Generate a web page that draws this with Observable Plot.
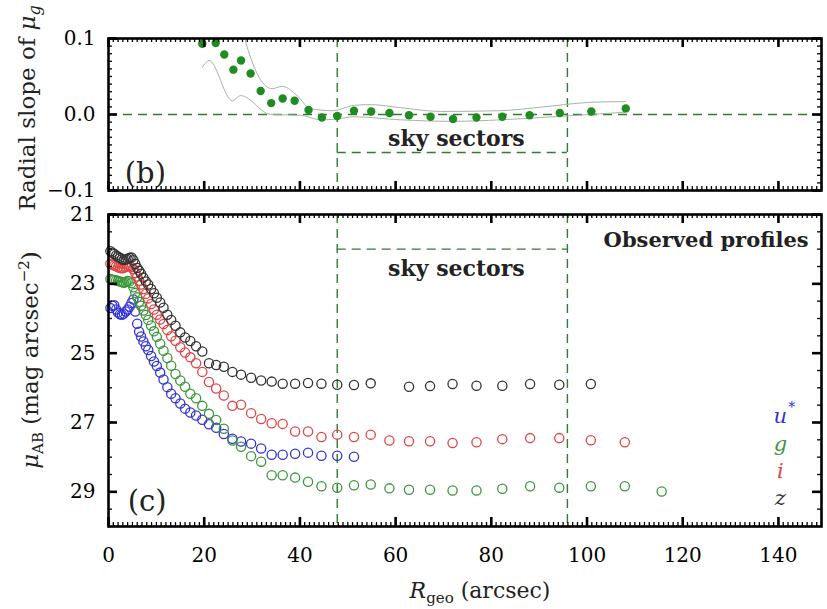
<!DOCTYPE html>
<html><head><meta charset="utf-8">
<script src="https://cdn.jsdelivr.net/npm/d3@7"></script>
<script src="https://cdn.jsdelivr.net/npm/@observablehq/plot@0.6"></script>
<style>
body{margin:0;background:#fff;}
#wrap{position:relative;width:827px;height:609px;overflow:hidden;background:#fff;}
#wrap svg{position:absolute;left:0;overflow:visible;}
</style></head><body><div id="wrap"></div>
<script>
// ---------- DATA ----------
// Panel (b): radial slope of mu_g
const slopeR   = [19.6, 22.4, 24.2, 26.1, 27.7, 29.7, 31.8, 34.0, 36.4, 38.9, 41.8, 44.6, 47.8, 51.3, 54.9, 58.7, 62.8, 67.3, 72.0, 76.9, 82.3, 88.0, 94.3, 100.9, 108.1];
const slopeVal = [0.093, 0.094, 0.079, 0.059, 0.071, 0.054, 0.031, 0.015, 0.021, 0.018, 0.006, -0.004, -0.002, 0.005, 0.004, 0.002, -0.001, -0.003, -0.006, -0.004, -0.003, -0.001, 0.002, 0.004, 0.008];
const envUpR   = [28.4, 28.6, 34.2, 36.3, 39.4, 42.2, 47.0, 51.2, 54.8, 61.0, 69.4, 81.9, 90.3, 100.7, 108.0];
const envUpVal = [0.11, 0.097, 0.034, 0.037, 0.025, 0.0075, 0.005, 0.012, 0.013, 0.009, 0.004, 0.005, 0.0096, 0.016, 0.017];
const envLoR   = [19.6, 21.0, 25.9, 27.6, 33.9, 40.1, 44.3, 47.8, 51.2, 61.0, 71.9, 81.9, 90.3, 100.7, 108.0];
const envLoVal = [0.062, 0.071, 0.018, 0.025, 0.0, -0.001, -0.007, -0.006, -0.003, -0.007, -0.009, -0.007, -0.004, 0.0, 0.003];

// Panel (c): observed surface-brightness profiles
const radius = [0.4, 0.8, 1.2, 1.6, 2.0, 2.4, 2.8, 3.2, 3.6, 4.0, 4.4, 4.8, 5.2, 5.6, 6.0, 6.4, 6.8, 7.3, 7.8, 8.3, 8.9, 9.5, 10.1, 10.8, 11.5, 12.3, 13.1, 14.0, 15.0, 16.0, 17.1, 18.3, 19.6, 21.0, 22.5, 24.1, 25.9, 27.7, 29.8, 31.9, 34.1, 36.4, 39.0, 41.7, 44.5, 47.8, 51.3, 54.8, 58.7, 62.8, 67.2, 71.9, 76.9, 82.3, 88.1, 94.2, 100.8, 107.9, 115.6];
const muU = [23.70, 23.63, 23.62, 23.74, 23.83, 23.88, 23.89, 23.86, 23.80, 23.74, 23.66, 23.55, 23.45, 23.80, 24.15, 24.38, 24.52, 24.66, 24.80, 24.91, 25.08, 25.24, 25.37, 25.56, 25.76, 25.98, 26.17, 26.30, 26.45, 26.60, 26.71, 26.80, 26.92, 27.05, 27.15, 27.33, 27.47, 27.55, 27.61, 27.75, 27.93, 27.93, 27.90, 27.87, 27.96, 27.96, 27.99, null, null, null, null, null, null, null, null, null, null, null, null];
const muG = [22.86, 22.88, 22.89, 22.90, 22.92, 22.93, 22.95, 22.97, 22.95, 22.92, 22.93, 22.98, 23.10, 23.26, 23.39, 23.52, 23.63, 23.77, 23.90, 24.04, 24.20, 24.37, 24.53, 24.73, 24.93, 25.14, 25.36, 25.60, 25.79, 25.97, 26.17, 26.30, 26.52, 26.75, 26.93, 27.18, 27.52, 27.70, 27.97, 28.13, 28.52, 28.52, 28.59, 28.71, 28.84, 28.88, 28.81, 28.79, 28.90, 28.94, 28.94, 28.96, 28.96, 28.91, 28.84, 28.88, 28.84, 28.84, 28.99];
const muI = [22.42, 22.45, 22.47, 22.49, 22.52, 22.54, 22.55, 22.54, 22.51, 22.49, 22.49, 22.52, 22.58, 22.69, 22.79, 22.91, 23.02, 23.15, 23.29, 23.42, 23.58, 23.74, 23.89, 24.03, 24.16, 24.33, 24.51, 24.64, 24.83, 24.98, 25.12, 25.29, 25.54, 25.83, 26.02, 26.22, 26.52, 26.49, 26.73, 26.90, 27.02, 27.04, 27.26, 27.26, 27.42, 27.35, 27.42, 27.35, 27.52, 27.54, 27.54, 27.59, 27.57, 27.48, 27.45, 27.45, 27.51, 27.57, null];
const muZ = [22.06, 22.10, 22.14, 22.18, 22.22, 22.25, 22.29, 22.31, 22.30, 22.28, 22.25, 22.24, 22.32, 22.43, 22.54, 22.62, 22.71, 22.82, 22.93, 23.02, 23.15, 23.27, 23.40, 23.54, 23.69, 23.89, 24.04, 24.21, 24.40, 24.55, 24.65, 24.80, 24.95, 25.29, 25.34, 25.39, 25.54, 25.62, 25.71, 25.79, 25.82, 25.88, 25.88, 25.86, 25.88, 25.91, 25.92, 25.87, null, 25.97, 25.95, 25.89, 25.94, 25.94, 25.89, 25.91, 25.89, null, null];
const bandNames = ["u*", "g", "i", "z"];
const skyBounds = [47.8, 95.9];
const xTickLabels = [0, 20, 40, 60, 80, 100, 120, 140];
const slopeTickLabels = [-0.1, 0.0, 0.1];
const muTickLabels = [21, 23, 25, 27, 29];

// ---------- STYLE / LAYOUT ----------
const bandColors = ["#3434d4", "#3c963c", "#e04444", "#333333"];
const legendY = [27.02, 27.81, 28.59, 29.39];
const dotGreen = "#1f8c1f", dashGreen = "#2f7d2f";
const FONT = "DejaVu Serif";
const W = 827, L = 108, R = 6;
const innerW = W - L - R;

const slopeRows = slopeR.map((r, i) => ({R: r, v: slopeVal[i]}));
const envUp = envUpR.map((r, i) => ({R: r, v: envUpVal[i]}));
const envLo = envLoR.map((r, i) => ({R: r, v: envLoVal[i]}));
const series = [muU, muG, muI, muZ];
const profRows = bandNames.flatMap((b, k) => radius.map((r, j) => ({band: b, R: r, mu: series[k][j]})).filter(d => d.mu != null));

function frameTicks(innerH, xMinor, xMajor, yMinor, yMajor) {
  const out = [];
  for (const [v, len, sw] of [[xMinor, 4, 1.3], [xMajor, 9, 2.6]]) {
    out.push(Plot.tickX(v, {x: d => d, insetTop: innerH - len, stroke: "black", strokeWidth: sw}));
    out.push(Plot.tickX(v, {x: d => d, insetBottom: innerH - len, stroke: "black", strokeWidth: sw}));
  }
  for (const [v, len, sw] of [[yMinor, 4, 1.3], [yMajor, 9, 2.6]]) {
    out.push(Plot.tickY(v, {y: d => d, insetRight: innerW - len, stroke: "black", strokeWidth: sw}));
    out.push(Plot.tickY(v, {y: d => d, insetLeft: innerW - len, stroke: "black", strokeWidth: sw}));
  }
  return out;
}
const dash = {stroke: dashGreen, strokeWidth: 1.4, strokeDasharray: "9,6"};
const fmt = d => (d < 0 ? "\u2212" : "") + Math.abs(d).toFixed(1);

// ---------- PANEL (b) ----------
const topH = 200, topMT = 38, topMB = 10;
const topPlot = Plot.plot({
  width: W, height: topH,
  marginLeft: L, marginRight: R, marginTop: topMT, marginBottom: topMB,
  x: {domain: [0, 149], axis: null},
  y: {domain: [-0.1, 0.1], axis: null},
  style: {fontFamily: FONT, fontSize: "20px", background: "transparent", overflow: "visible", color: "black"},
  marks: [
    Plot.ruleY([0], dash),
    Plot.ruleX(skyBounds, dash),
    Plot.ruleY([-0.05], {x1: skyBounds[0], x2: skyBounds[1], ...dash}),
    Plot.line(envUp, {x: "R", y: "v", stroke: "#a6b5a6", strokeWidth: 1, curve: "monotone-x", clip: true}),
    Plot.line(envLo, {x: "R", y: "v", stroke: "#a6b5a6", strokeWidth: 1, curve: "monotone-x", clip: true}),
    Plot.dot(slopeRows, {x: "R", y: "v", fill: dotGreen, r: 4.2, clip: true}),
    Plot.text(["sky sectors"], {x: 72.7, y: -0.041, text: d => d, fontSize: 22, fontWeight: "bold", lineAnchor: "bottom", fill: "#222"}),
    Plot.text(["(b)"], {x: 3.4, y: -0.0895, text: d => d, fontSize: 29, textAnchor: "start", lineAnchor: "bottom", fill: "#222"}),
    ...frameTicks(topH - topMT - topMB, d3.range(0, 150, 1), d3.range(0, 150, 20), d3.range(-0.1, 0.1001, 0.01), slopeTickLabels),
    Plot.frame({stroke: "black", strokeWidth: 2.6}),
    Plot.axisY({ticks: slopeTickLabels, tickSize: 0, tickPadding: 13, tickFormat: fmt, label: null})
  ]
});
topPlot.style.top = "0px";

// ---------- PANEL (c) ----------
const botH = 409, botMT = 14, botMB = 83;
const botPlot = Plot.plot({
  width: W, height: botH,
  marginLeft: L, marginRight: R, marginTop: botMT, marginBottom: botMB,
  x: {domain: [0, 149], axis: null},
  y: {domain: [21, 30], reverse: true, axis: null},
  color: {domain: bandNames, range: bandColors},
  style: {fontFamily: FONT, fontSize: "20px", background: "transparent", overflow: "visible", color: "black"},
  marks: [
    Plot.ruleX(skyBounds, dash),
    Plot.ruleY([22.0], {x1: skyBounds[0], x2: skyBounds[1], ...dash}),
    Plot.dot(profRows, {x: "R", y: "mu", stroke: "band", r: 4.6, strokeWidth: 1.3, fill: "none"}),
    Plot.text(["sky sectors"], {x: 72.7, y: 22.76, text: d => d, fontSize: 22, fontWeight: "bold", lineAnchor: "bottom", fill: "#222"}),
    Plot.text(["Observed profiles"], {x: 146.3, y: 21.95, text: d => d, fontSize: 21, fontWeight: "bold", textAnchor: "end", lineAnchor: "bottom", fill: "#222"}),
    Plot.text(["(c)"], {x: 4.0, y: 29.54, text: d => d, fontSize: 29, textAnchor: "start", lineAnchor: "bottom", fill: "#222"}),
    ...bandNames.map((b, i) => Plot.text([b[0]], {x: 140.4, y: legendY[i], text: d => d, fontSize: 21, fontStyle: "italic", lineAnchor: "bottom", fill: bandColors[i]})),
    Plot.text(["*"], {x: 140.4, y: legendY[0], text: d => d, dx: 8, dy: -11, fontSize: 14, textAnchor: "start", lineAnchor: "bottom", fill: bandColors[0]}),
    ...frameTicks(botH - botMT - botMB, d3.range(0, 150, 1), d3.range(0, 150, 20), d3.range(21, 30.01, 0.5), muTickLabels),
    Plot.frame({stroke: "black", strokeWidth: 2.6}),
    Plot.axisY({ticks: muTickLabels, tickSize: 0, tickPadding: 13, label: null}),
    Plot.axisX({ticks: xTickLabels, tickSize: 0, tickPadding: 21, label: null})
  ]
});
botPlot.style.top = "200px";

const wrap = document.getElementById("wrap");
wrap.appendChild(topPlot);
wrap.appendChild(botPlot);

// ---------- Axis titles (rich text) ----------
function title(svg, x, y, rot, size, parts) {
  const t = d3.select(svg).append("text")
    .attr("transform", `translate(${x},${y})` + (rot ? ` rotate(${rot})` : ""))
    .attr("text-anchor", "middle").attr("fill", "#222")
    .style("font-family", FONT).style("font-size", size + "px");
  for (const p of parts) {
    const s = t.append("tspan").text(p.t);
    if (p.it) s.attr("font-style", "italic");
    if (p.fs) s.attr("font-size", p.fs + "px");
    if (p.dy) s.attr("dy", p.dy);
  }
}
title(topPlot, 35, 108, -90, 23, [
  {t: "Radial slope of "}, {t: "\u03bc", it: 1}, {t: "g", it: 1, fs: 16, dy: 5}
]);
title(botPlot, 38, 160, -90, 23, [
  {t: "\u03bc", it: 1}, {t: "AB", fs: 15, dy: 5}, {t: " (mag arcsec", dy: -5},
  {t: "\u22122", fs: 15, dy: -9}, {t: ")", dy: 9}
]);
title(botPlot, 480, 398, 0, 22, [
  {t: "R", it: 1}, {t: "geo", fs: 15, dy: 5}, {t: " (arcsec)", dy: -5}
]);
</script></body></html>
